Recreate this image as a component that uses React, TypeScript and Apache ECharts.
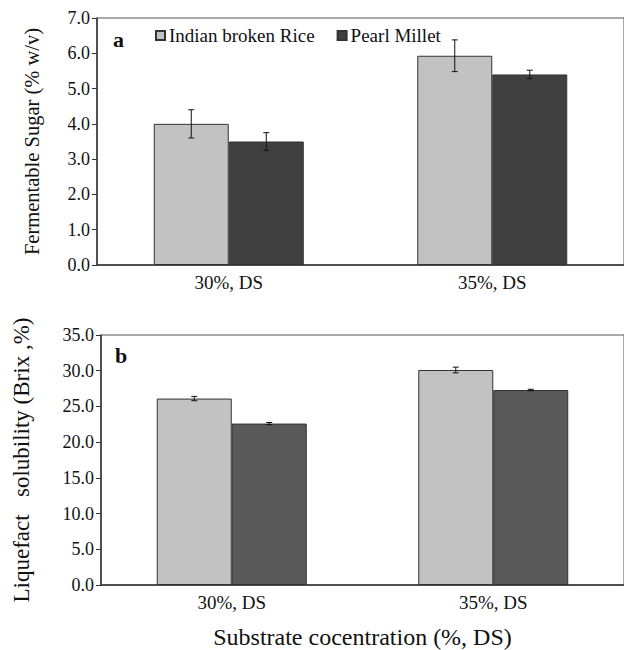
import React, { useEffect, useRef } from "react";
import * as echarts from "echarts";

const categories = ["30%, DS", "35%, DS"];
const seriesNames = ["Indian broken Rice", "Pearl Millet"];
const riceSugar = [4.0, 5.93];
const riceSugarErr = [0.4, 0.45];
const milletSugar = [3.5, 5.4];
const milletSugarErr = [0.25, 0.12];
const riceBrix = [26.1, 30.1];
const riceBrixErr = [0.3, 0.4];
const milletBrix = [22.6, 27.3];
const milletBrixErr = [0.15, 0.1];

const FONT = "Liberation Serif";
const BAR_W = 75;

function errSeries(grid: number, vals: number[], errs: number[], offset: number) {
  return {
    type: "custom",
    xAxisIndex: grid,
    yAxisIndex: grid,
    z: 10,
    silent: true,
    data: vals.map((v, i) => [i, v, errs[i]]),
    renderItem: (params: any, api: any) => {
      const idx = api.value(0);
      const v = api.value(1);
      const e = api.value(2);
      const hi = api.coord([idx, v + e]);
      const lo = api.coord([idx, v - e]);
      const x = hi[0] + offset;
      const cap = 3;
      const style = { stroke: "#111", lineWidth: 1 };
      return {
        type: "group",
        children: [
          { type: "line", shape: { x1: x, y1: hi[1], x2: x, y2: lo[1] }, style },
          { type: "line", shape: { x1: x - cap, y1: hi[1], x2: x + cap, y2: hi[1] }, style },
          { type: "line", shape: { x1: x - cap, y1: lo[1], x2: x + cap, y2: lo[1] }, style },
        ],
      };
    },
  };
}

export default function App() {
  const ref = useRef<HTMLDivElement>(null);
  useEffect(() => {
    if (!ref.current) return;
    const chart = echarts.init(ref.current, null, { renderer: "svg" });
    const axisLine = { show: true, lineStyle: { color: "#333", width: 1.5 } };
    const yCommon = {
      type: "value",
      nameLocation: "middle",
      nameRotate: 90,
      axisLine,
      axisTick: { show: true, length: 5, lineStyle: { color: "#333" } },
      splitLine: { show: false },
      axisLabel: {
        fontFamily: FONT,
        fontSize: 18,
        color: "#111",
        margin: 7,
        formatter: (v: number) => v.toFixed(1),
      },
    };
    const xCommon = {
      type: "category",
      data: categories,
      axisLine,
      axisTick: { show: false },
      axisLabel: { fontFamily: FONT, fontSize: 19, color: "#111", margin: 8 },
    };
    const barStyle = (color: string) => ({
      color,
      borderColor: "#333",
      borderWidth: 1,
    });
    chart.setOption({
      animation: false,
      backgroundColor: "#fff",
      textStyle: { fontFamily: FONT },
      grid: [
        { left: 97, top: 18, width: 527, height: 247, show: true, borderColor: "#555", borderWidth: 1 },
        { left: 101, top: 335, width: 523, height: 252, show: true, borderColor: "#555", borderWidth: 1 },
      ],
      legend: {
        data: seriesNames,
        left: 150,
        top: 21,
        icon: "rect",
        itemWidth: 9,
        itemHeight: 9,
        itemGap: 22,
        textStyle: { fontFamily: FONT, fontSize: 19, color: "#111", padding: [0, 0, 0, -1] },
      },
      xAxis: [
        { ...xCommon, gridIndex: 0 },
        {
          ...xCommon,
          gridIndex: 1,
          name: "Substrate cocentration (%, DS)",
          nameLocation: "middle",
          nameGap: 40,
          nameTextStyle: { fontFamily: FONT, fontSize: 24, color: "#111" },
        },
      ],
      yAxis: [
        {
          ...yCommon,
          gridIndex: 0,
          min: 0,
          max: 7,
          interval: 1,
          name: "Fermentable Sugar (% w/v)",
          nameGap: 55,
          nameTextStyle: { fontFamily: FONT, fontSize: 20.5, color: "#111" },
        },
        {
          ...yCommon,
          gridIndex: 1,
          min: 0,
          max: 35,
          interval: 5,
          name: "Liquefact   solubility (Brix ,%)",
          nameGap: 68,
          nameTextStyle: { fontFamily: FONT, fontSize: 23, color: "#111" },
        },
      ],
      graphic: [
        { type: "text", left: 113, top: 28, style: { text: "a", font: `bold 22px ${FONT}`, fill: "#111" } },
        { type: "text", left: 115, top: 344, style: { text: "b", font: `bold 22px ${FONT}`, fill: "#111" } },
      ],
      series: [
        { name: seriesNames[0], type: "bar", xAxisIndex: 0, yAxisIndex: 0, data: riceSugar, barWidth: BAR_W, barGap: "0%", itemStyle: barStyle("#c2c2c2") },
        { name: seriesNames[1], type: "bar", xAxisIndex: 0, yAxisIndex: 0, data: milletSugar, barWidth: BAR_W, barGap: "0%", itemStyle: barStyle("#404040") },
        { name: "rice-b", type: "bar", xAxisIndex: 1, yAxisIndex: 1, data: riceBrix, barWidth: BAR_W, barGap: "0%", itemStyle: barStyle("#c2c2c2") },
        { name: "millet-b", type: "bar", xAxisIndex: 1, yAxisIndex: 1, data: milletBrix, barWidth: BAR_W, barGap: "0%", itemStyle: barStyle("#595959") },
        errSeries(0, riceSugar, riceSugarErr, -BAR_W / 2),
        errSeries(0, milletSugar, milletSugarErr, BAR_W / 2),
        errSeries(1, riceBrix, riceBrixErr, -BAR_W / 2),
        errSeries(1, milletBrix, milletBrixErr, BAR_W / 2),
      ],
    });
    return () => chart.dispose();
  }, []);
  return <div ref={ref} style={{ width: 624, height: 650, position: "absolute", left: 0, top: 0 }} />;
}
